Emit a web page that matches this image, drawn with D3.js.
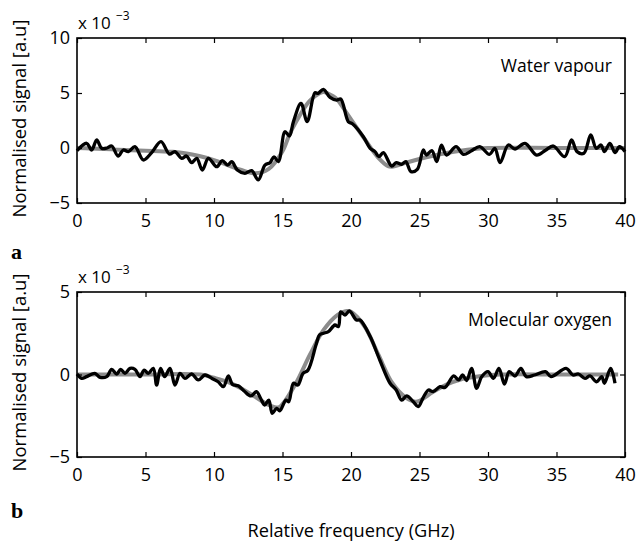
<!DOCTYPE html>
<html>
<head>
<meta charset="utf-8">
<script src="https://cdn.jsdelivr.net/npm/d3@7"></script>
<style>
  body { margin: 0; background: #fff; }
  text { font-family: "Open Sans", sans-serif; }
</style>
</head>
<body>
<svg id="chart" width="636" height="545"></svg>
<script>
// frequency (GHz), signal (x 10^-3)
const waterSignal = [[0,-0.25],[0.7,0.43],[1.07,-0.18],[1.44,0.73],[1.8,-0.03],[2.2,0.0],[2.53,0.18],[3.0,-0.73],[3.38,-0.18],[3.75,-0.33],[4.23,0.12],[4.84,-1.09],[5.45,-0.42],[6.13,0.58],[6.74,-0.55],[7.15,-0.33],[7.64,-0.94],[8.0,-0.73],[8.37,-1.33],[8.74,-0.94],[9.15,-2.0],[9.59,-0.94],[10.2,-1.7],[10.6,-1.15],[11.0,-1.55],[11.3,-1.24],[11.7,-2.0],[12.26,-2.3],[12.75,-2.06],[13.23,-2.9],[13.72,-1.55],[14.09,-1.33],[14.38,-0.8],[14.7,-1.24],[15.18,1.48],[15.5,1.09],[15.8,2.4],[16.35,4.06],[16.8,2.4],[17.37,5.03],[17.6,4.97],[17.98,5.33],[18.47,4.6],[18.95,4.36],[19.25,4.45],[19.8,2.4],[20.1,2.2],[20.9,1.03],[21.4,-0.03],[21.75,-0.33],[22.04,-0.79],[22.36,-0.42],[22.97,-1.64],[23.3,-1.33],[23.7,-1.48],[24.0,-1.24],[24.38,-2.15],[24.84,-1.94],[25.28,-0.18],[25.5,-0.64],[25.9,-0.24],[26.26,-1.24],[26.6,0.27],[26.98,-0.64],[27.67,0.12],[28.2,-0.58],[28.8,-0.25],[29.4,0.12],[30.1,-0.58],[30.5,-0.03],[30.88,-1.33],[31.48,0.27],[31.97,-0.09],[32.7,0.42],[33.55,-0.64],[34.2,-0.2],[34.77,0.18],[35.6,-0.79],[36.1,0.73],[36.5,-0.33],[37.0,-0.48],[37.5,1.18],[37.9,-0.03],[38.25,0.27],[38.5,-0.33],[38.9,0.42],[39.27,-0.42],[39.6,0.12],[40,-0.33]];
const waterFit = [[0,0],[1,-0.05],[2,-0.1],[3,-0.15],[4,-0.2],[5,-0.25],[6,-0.3],[7,-0.35],[8,-0.5],[9,-0.75],[10,-1.1],[11,-1.55],[12,-2.0],[13,-2.3],[14,-1.9],[15,-0.3],[15.5,1.2],[16,2.4],[16.5,3.45],[17,4.3],[17.7,4.97],[18,5.1],[18.7,4.7],[19,4.4],[19.7,3.15],[20,2.6],[21,0.8],[22,-0.9],[22.7,-1.65],[23,-1.7],[24,-1.35],[25,-1.0],[26,-0.7],[27,-0.45],[28,-0.25],[29,-0.1],[30,0],[35,0],[40,0]];
const oxygenSignal = [[0,0.03],[0.34,-0.23],[0.7,-0.13],[1.3,0.07],[1.68,-0.17],[2.17,-0.13],[2.53,0.31],[2.9,0.03],[3.19,0.31],[3.5,0.07],[3.87,0.37],[4.23,0.31],[4.6,-0.13],[4.9,0.27],[5.2,0.07],[5.57,0.37],[5.81,-0.64],[6.1,0.37],[6.4,-0.13],[6.79,0.37],[7.15,-0.64],[7.52,0.07],[7.88,-0.23],[8.37,0.03],[8.85,-0.33],[9.34,-0.03],[9.83,-0.23],[10.3,-0.44],[10.68,-0.74],[11.05,-0.09],[11.35,-0.6],[11.8,-0.7],[12.2,-1.0],[12.7,-1.3],[13.1,-1.04],[13.4,-1.44],[13.7,-1.85],[14.0,-1.55],[14.25,-2.35],[14.57,-2.05],[14.8,-2.2],[15.25,-1.55],[15.45,-1.65],[15.8,-0.53],[16.12,-0.64],[16.5,0.07],[16.85,0.25],[17.45,1.8],[17.7,2.4],[18.0,2.5],[18.35,2.6],[18.83,3.0],[19.08,2.9],[19.25,3.8],[19.56,3.6],[19.88,3.85],[20.4,3.3],[20.66,3.3],[21.4,2.3],[22.1,0.88],[22.85,-0.53],[23.3,-0.94],[23.7,-1.55],[24.06,-1.3],[24.55,-1.65],[24.9,-1.95],[25.3,-1.35],[25.66,-0.94],[26.0,-1.04],[26.5,-0.74],[26.86,-0.78],[27.5,-0.09],[27.85,-0.33],[28.15,-0.03],[28.44,-0.37],[28.8,0.37],[29.17,-0.84],[29.54,-0.13],[30.0,0.17],[30.4,-0.23],[30.8,0.37],[31.2,-0.58],[31.55,0.17],[31.97,-0.09],[32.4,0.37],[32.8,-0.13],[33.4,-0.03],[34.2,0.17],[34.6,-0.13],[35.7,0.37],[36.2,-0.03],[36.6,0.03],[37.08,-0.23],[37.45,-0.09],[37.93,-0.44],[38.3,-0.13],[38.5,-0.53],[38.95,0.37],[39.27,-0.53]];
const oxygenFit = [[0,0],[5,0],[9,0],[10,-0.2],[11,-0.45],[12,-0.85],[13,-1.35],[14,-1.85],[14.7,-2.0],[15,-1.8],[16,-0.5],[17,1.2],[18,2.7],[19,3.6],[19.7,3.85],[20,3.8],[21,2.9],[22,1.2],[23,-0.5],[24,-1.4],[24.7,-1.65],[25,-1.6],[26,-1.05],[27,-0.6],[28,-0.3],[29,-0.15],[30,-0.05],[31,0],[35,0],[39.5,0]];

const xTicks = [0, 5, 10, 15, 20, 25, 30, 35, 40];
const waterYTicks = [-5, 0, 5, 10];
const oxygenYTicks = [-5, 0, 5];

const svg = d3.select("#chart");
const left = 77, right = 625;

const x = d3.scaleLinear().domain([0, 40]).range([left, right]);

function drawPanel(top, bottom, yDomain, yTicks, signal, fit, title, letter, letterY) {
  const y = d3.scaleLinear().domain(yDomain).range([bottom, top]);
  const g = svg.append("g");

  const line = d3.line()
    .x(d => x(d[0]))
    .y(d => y(d[1]))
    .curve(d3.curveCatmullRom.alpha(0.5));

  // fitted curve (grey)
  g.append("path")
    .datum(fit)
    .attr("fill", "none")
    .attr("stroke", "#8c8c8c")
    .attr("stroke-width", 4)
    .attr("d", line);

  // measured signal (black)
  g.append("path")
    .datum(signal)
    .attr("fill", "none")
    .attr("stroke", "#000")
    .attr("stroke-width", 3.3)
    .attr("stroke-linejoin", "round")
    .attr("d", line);

  // axes, ticks pointing inward
  const tickFmt = d3.format("d");
  g.append("g")
    .attr("transform", `translate(0,${bottom})`)
    .call(d3.axisBottom(x).tickValues(xTicks).tickSizeInner(-5).tickSizeOuter(0).tickPadding(11).tickFormat(tickFmt));
  g.append("g")
    .attr("transform", `translate(0,${top})`)
    .call(d3.axisTop(x).tickValues(xTicks).tickSizeInner(-5).tickSizeOuter(0).tickFormat(""));
  g.append("g")
    .attr("transform", `translate(${left},0)`)
    .call(d3.axisLeft(y).tickValues(yTicks).tickSizeInner(-5).tickSizeOuter(0).tickPadding(7).tickFormat(tickFmt));
  g.append("g")
    .attr("transform", `translate(${right},0)`)
    .call(d3.axisRight(y).tickValues(yTicks).tickSizeInner(-5).tickSizeOuter(0).tickFormat(""));

  g.selectAll(".tick line").attr("stroke", "#000").attr("stroke-width", 1.2);
  g.selectAll(".domain").remove();
  g.selectAll(".tick text")
    .style("font-family", "'Open Sans', sans-serif")
    .style("font-size", "18px")
    .attr("fill", "#000");

  // frame
  g.append("rect")
    .attr("x", left).attr("y", top)
    .attr("width", right - left).attr("height", bottom - top)
    .attr("fill", "none").attr("stroke", "#000").attr("stroke-width", 1.6);

  // exponent
  g.append("text")
    .attr("x", left + 1).attr("y", top - 9)
    .style("font-size", "17px")
    .text("x 10");
  g.append("text")
    .attr("x", left + 39).attr("y", top - 18)
    .style("font-size", "12px")
    .text("\u22123");

  g.append("text")
    .attr("x", 612).attr("y", top + 34)
    .attr("text-anchor", "end")
    .style("font-size", "17.5px")
    .text(title);

  g.append("text")
    .attr("transform", `translate(26,${(top + bottom) / 2 - 2}) rotate(-90)`)
    .attr("text-anchor", "middle")
    .style("font-size", "18.5px")
    .text("Normalised signal [a.u]");

  g.append("text")
    .attr("x", 11).attr("y", letterY)
    .style("font-family", "'Liberation Serif', serif")
    .style("font-weight", "bold")
    .style("font-size", "22px")
    .text(letter);
}

drawPanel(38, 203, [-5, 10], waterYTicks, waterSignal, waterFit, "Water vapour", "a", 259);
drawPanel(292, 457, [-5, 5], oxygenYTicks, oxygenSignal, oxygenFit, "Molecular oxygen", "b", 518);

svg.append("text")
  .attr("x", 351).attr("y", 537)
  .attr("text-anchor", "middle")
  .style("font-size", "18.2px")
  .text("Relative frequency (GHz)");
</script>
</body>
</html>
